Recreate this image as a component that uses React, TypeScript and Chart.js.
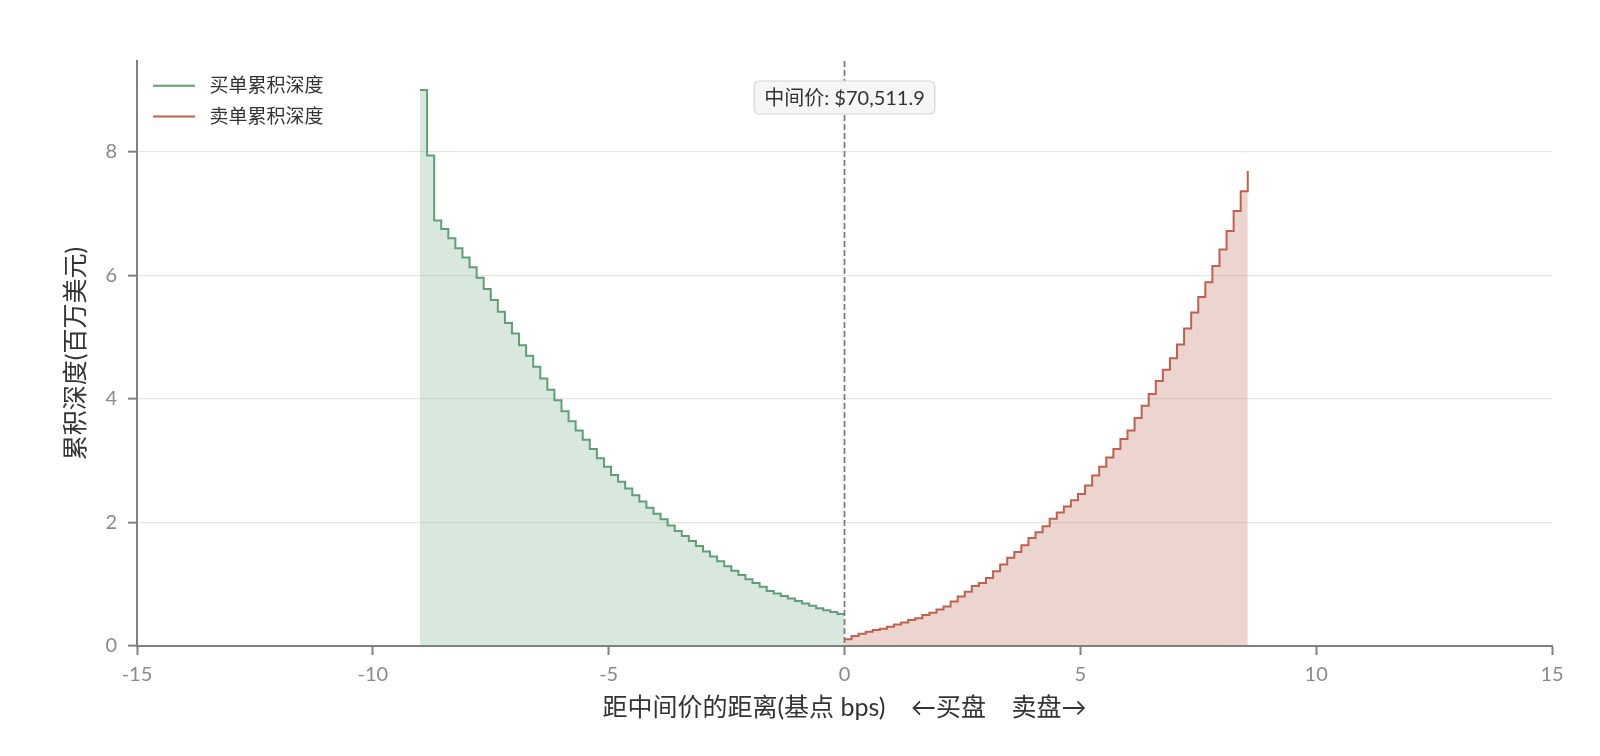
import React, { useEffect, useRef } from "react";
import { Chart, registerables } from "chart.js";

Chart.register(...registerables);

// ---- data ----
const bidBps = [
  -9.0, -8.85, -8.7, -8.55, -8.4, -8.25, -8.1, -7.95, -7.8, -7.65,
  -7.5, -7.35, -7.2, -7.05, -6.9, -6.75, -6.6, -6.45, -6.3, -6.15,
  -6.0, -5.85, -5.7, -5.55, -5.4, -5.25, -5.1, -4.95, -4.8, -4.65,
  -4.5, -4.35, -4.2, -4.05, -3.9, -3.75, -3.6, -3.45, -3.3, -3.15,
  -3.0, -2.85, -2.7, -2.55, -2.4, -2.25, -2.1, -1.95, -1.8, -1.65,
  -1.5, -1.35, -1.2, -1.05, -0.9, -0.75, -0.6, -0.45, -0.3, -0.15, 0,
];
const bidDepth = [
  9.0, 7.94, 6.89, 6.75, 6.6, 6.44, 6.29, 6.13, 5.96, 5.78,
  5.6, 5.41, 5.23, 5.06, 4.87, 4.7, 4.52, 4.33, 4.15, 3.98,
  3.8, 3.64, 3.49, 3.34, 3.19, 3.04, 2.9, 2.77, 2.66, 2.55,
  2.44, 2.34, 2.24, 2.14, 2.05, 1.95, 1.86, 1.78, 1.7, 1.62,
  1.53, 1.45, 1.37, 1.29, 1.22, 1.15, 1.08, 1.02, 0.96, 0.89,
  0.85, 0.81, 0.77, 0.73, 0.69, 0.65, 0.61, 0.58, 0.55, 0.52, 0.52,
];
const askBps = [
  0, 0.15, 0.3, 0.45, 0.6, 0.75, 0.9, 1.05, 1.2, 1.35,
  1.5, 1.65, 1.8, 1.95, 2.1, 2.25, 2.4, 2.55, 2.7, 2.85,
  3.0, 3.15, 3.3, 3.45, 3.6, 3.75, 3.9, 4.05, 4.2, 4.35,
  4.5, 4.65, 4.8, 4.95, 5.1, 5.25, 5.4, 5.55, 5.7, 5.85,
  6.0, 6.15, 6.3, 6.45, 6.6, 6.75, 6.9, 7.05, 7.2, 7.35,
  7.5, 7.65, 7.8, 7.95, 8.1, 8.25, 8.4, 8.55,
];
const askDepth = [
  0.11, 0.16, 0.2, 0.23, 0.26, 0.28, 0.31, 0.35, 0.38, 0.42,
  0.45, 0.5, 0.54, 0.59, 0.64, 0.72, 0.8, 0.88, 0.97, 1.02,
  1.1, 1.21, 1.32, 1.43, 1.52, 1.63, 1.75, 1.84, 1.94, 2.06,
  2.16, 2.26, 2.36, 2.46, 2.6, 2.76, 2.9, 3.05, 3.19, 3.35,
  3.49, 3.69, 3.89, 4.08, 4.29, 4.47, 4.66, 4.88, 5.14, 5.4,
  5.65, 5.89, 6.15, 6.42, 6.72, 7.04, 7.36, 7.69,
];
const xTicks = [-15, -10, -5, 0, 5, 10, 15];
const yTicks = [0, 2, 4, 6, 8];
const seriesNames = ["买单累积深度", "卖单累积深度"];
const midPriceLabel = "中间价: $70,511.9";
const midBps = 0;
const xTitle = "距中间价的距离(基点 bps)    ←买盘    卖盘→";
const yTitle = "累积深度(百万美元)";

// ---- styles ----
const BID_COLOR = "#5f9f78";
const BID_FILL = "rgba(95,159,120,0.24)";
const ASK_COLOR = "#c0614f";
const ASK_FILL = "rgba(185,100,84,0.28)";
const AXIS_COLOR = "#808080";
const FONT = "Lato, 'Noto Sans CJK SC', sans-serif";

const overlayPlugin = {
  id: "overlay",
  afterDatasetsDraw(chart: any) {
    const { ctx, chartArea, scales } = chart;
    const x0 = scales.x.getPixelForValue(midBps);
    ctx.save();
    // dashed mid line
    ctx.strokeStyle = "#777777";
    ctx.lineWidth = 1.7;
    ctx.setLineDash([6, 3]);
    ctx.beginPath();
    ctx.moveTo(x0, chartArea.top);
    ctx.lineTo(x0, chartArea.bottom);
    ctx.stroke();
    ctx.setLineDash([]);

    // mid price label box
    ctx.font = `20px ${FONT}`;
    const tw = ctx.measureText(midPriceLabel).width;
    const bw = tw + 20;
    const bh = 33;
    const cy = chartArea.top + 36.5;
    const bx = x0 - bw / 2;
    const by = cy - bh / 2;
    ctx.beginPath();
    (ctx as any).roundRect(bx, by, bw, bh, 5);
    ctx.fillStyle = "rgba(246,246,246,0.95)";
    ctx.fill();
    ctx.strokeStyle = "#d6d6d6";
    ctx.lineWidth = 1.2;
    ctx.stroke();
    ctx.fillStyle = "#333333";
    ctx.textAlign = "center";
    ctx.textBaseline = "middle";
    ctx.fillText(midPriceLabel, x0, cy + 1);

    // legend
    const colors = [BID_COLOR, ASK_COLOR];
    const lx = chartArea.left + 16;
    const ly0 = chartArea.top + 24.7;
    ctx.font = `19px ${FONT}`;
    ctx.textAlign = "left";
    seriesNames.forEach((name, i) => {
      const ly = ly0 + i * 30.7;
      ctx.strokeStyle = colors[i];
      ctx.lineWidth = 2;
      ctx.beginPath();
      ctx.moveTo(lx, ly);
      ctx.lineTo(lx + 42, ly);
      ctx.stroke();
      ctx.fillStyle = "#333333";
      ctx.fillText(name, lx + 56.5, ly + 0.5);
    });
    ctx.restore();
  },
};

export default function App() {
  const canvasRef = useRef<HTMLCanvasElement | null>(null);

  useEffect(() => {
    const canvas = canvasRef.current;
    if (!canvas) return;
    const chart = new Chart(canvas, {
      type: "line",
      data: {
        datasets: [
          {
            label: seriesNames[0],
            data: bidBps.map((x, i) => ({ x, y: bidDepth[i] })),
            borderColor: BID_COLOR,
            backgroundColor: BID_FILL,
            borderWidth: 2,
            stepped: true,
            fill: "origin",
            pointRadius: 0,
            tension: 0,
            borderJoinStyle: "miter",
          },
          {
            label: seriesNames[1],
            data: askBps.map((x, i) => ({ x, y: askDepth[i] })),
            borderColor: ASK_COLOR,
            backgroundColor: ASK_FILL,
            borderWidth: 2,
            stepped: true,
            fill: "origin",
            pointRadius: 0,
            tension: 0,
            borderJoinStyle: "miter",
          },
        ],
      },
      options: {
        animation: false,
        responsive: false,
        devicePixelRatio: 1,
        layout: { padding: { top: 61, right: 48, left: 0, bottom: 0 } },
        plugins: {
          legend: { display: false },
          tooltip: { enabled: false },
        },
        scales: {
          x: {
            type: "linear",
            min: -15,
            max: 15,
            afterBuildTicks: (scale: any) => {
              scale.ticks = xTicks.map((v) => ({ value: v }));
            },
            afterFit: (scale: any) => {
              scale.height = 110;
            },
            ticks: {
              color: "#8a8a8a",
              font: { family: FONT, size: 20 },
              padding: 8,
              maxRotation: 0,
              callback: (v: any) => String(v),
            },
            grid: {
              drawOnChartArea: false,
              drawTicks: true,
              tickLength: 9,
              tickWidth: 2,
              tickColor: AXIS_COLOR,
            },
            border: { display: true, color: AXIS_COLOR, width: 2 },
            title: {
              display: true,
              text: xTitle,
              color: "#333333",
              font: { family: FONT, size: 25 },
              padding: { top: 0, bottom: 33 },
            },
          },
          y: {
            type: "linear",
            min: 0,
            max: 9.47,
            afterBuildTicks: (scale: any) => {
              scale.ticks = yTicks.map((v) => ({ value: v }));
            },
            afterFit: (scale: any) => {
              scale.width = 137;
            },
            ticks: {
              color: "#8a8a8a",
              font: { family: FONT, size: 20 },
              padding: 11,
              callback: (v: any) => String(v),
            },
            grid: {
              drawOnChartArea: true,
              color: (c: any) => (c.tick && c.tick.value === 0 ? "rgba(0,0,0,0)" : "#e6e6e6"),
              lineWidth: 1.3,
              drawTicks: true,
              tickLength: 9,
              tickWidth: 2,
              tickColor: AXIS_COLOR,
            },
            border: { display: true, color: AXIS_COLOR, width: 2 },
            title: {
              display: true,
              text: yTitle,
              color: "#333333",
              font: { family: FONT, size: 25 },
              padding: { top: 61, bottom: 0 },
            },
          },
        },
      },
      plugins: [overlayPlugin],
    } as any);
    return () => chart.destroy();
  }, []);

  return (
    <div style={{ position: "absolute", left: 0, top: 0, width: 1600, height: 756, background: "#ffffff" }}>
      <canvas ref={canvasRef} width={1600} height={756} style={{ width: 1600, height: 756, display: "block" }} />
    </div>
  );
}
